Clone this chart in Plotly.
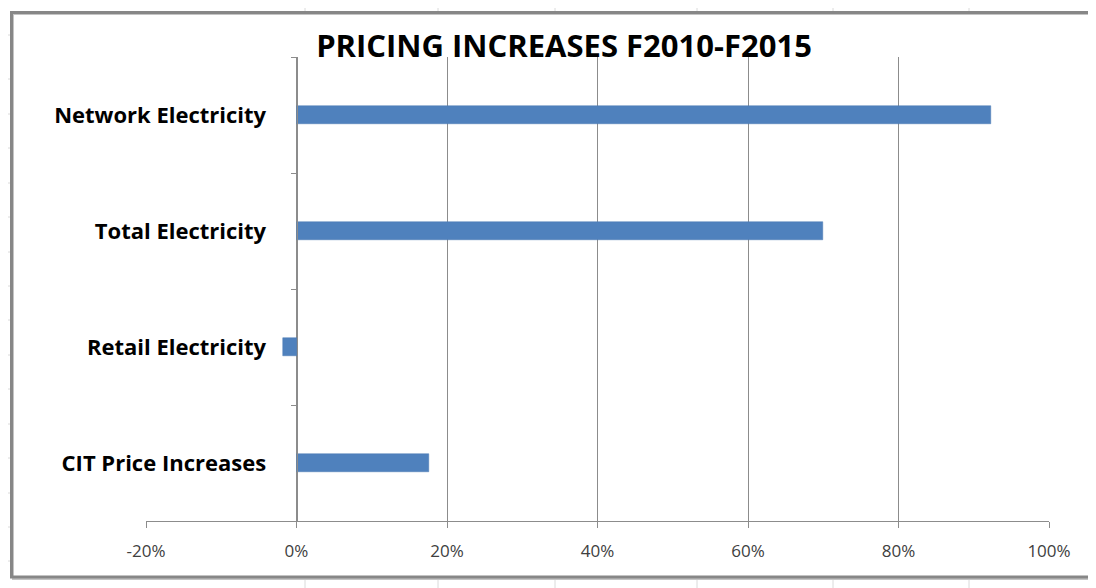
import plotly.graph_objects as go

# ---- data ----
categories = ["CIT Price Increases", "Retail Electricity", "Total Electricity", "Network Electricity"]
values = [0.176, -0.018, 0.70, 0.923]
tick_vals = [-0.2, 0.0, 0.2, 0.4, 0.6, 0.8, 1.0]
tick_text = ["-20%", "0%", "20%", "40%", "60%", "80%", "100%"]
title_text = "PRICING INCREASES F2010-F2015"

# page has an 8px body margin; absolute screen coordinates are converted below
OFF = 8
W, H = 1096 - OFF, 588 - OFF
PL, PR, PT, PB = 146, 1049, 57, 521          # plot area in screen px
ML, MT = PL - OFF, PT - OFF
MR, MB = W - (PR - OFF), H - (PB - OFF)
PW, PH = PR - PL, PB - PT

def px(x):
    return (x - PL) / PW

def py(y):
    return (PB - y) / PH

fig = go.Figure()
fig.add_trace(go.Bar(
    x=values, y=categories, orientation="h",
    width=0.16,
    marker=dict(color="#4f81bd", line=dict(color="#4a7ab5", width=0.5)),
    hoverinfo="x+y",
))

shapes = []
grid_col = "#dadada"
# spreadsheet background lines outside the chart frame
shapes.append(dict(type="line", xref="paper", yref="paper",
                   x0=px(4), x1=px(4), y0=py(0), y1=py(588), line=dict(color=grid_col, width=1), layer="below"))
for yy in [35, 79, 114, 148, 183, 217, 252, 286, 320, 355, 389, 424, 458, 493, 527, 561]:
    shapes.append(dict(type="line", xref="paper", yref="paper",
                       x0=px(4), x1=px(10), y0=py(yy), y1=py(yy), line=dict(color=grid_col, width=1), layer="below"))
for xx in [305, 438, 555, 697, 833, 969]:
    shapes.append(dict(type="line", xref="paper", yref="paper",
                       x0=px(xx), x1=px(xx), y0=py(0), y1=py(11), line=dict(color=grid_col, width=1), layer="below"))
    shapes.append(dict(type="line", xref="paper", yref="paper",
                       x0=px(xx), x1=px(xx), y0=py(579), y1=py(588), line=dict(color=grid_col, width=1), layer="below"))
# chart frame with shadow
shapes.append(dict(type="rect", xref="paper", yref="paper",
                   x0=px(13), x1=px(1094), y0=py(579), y1=py(14),
                   line=dict(color="#c4c4c4", width=2), layer="below"))
shapes.append(dict(type="rect", xref="paper", yref="paper",
                   x0=px(11.5), x1=px(1092.5), y0=py(577), y1=py(12.5),
                   line=dict(color="#878787", width=3), layer="below"))

fig.update_layout(
    width=W, height=H,
    margin=dict(l=ML, r=MR, t=MT, b=MB, pad=0),
    paper_bgcolor="white", plot_bgcolor="white",
    showlegend=False,
    bargap=0,
    title=dict(text=title_text, x=(564 - OFF) / W, xanchor="center",
               y=1 - (46 - OFF) / H, yanchor="middle", yref="container",
               font=dict(family="Open Sans", size=31, color="black", weight="bold")),
    font=dict(family="Open Sans"),
    shapes=shapes,
    xaxis=dict(
        range=[-0.2, 1.0], tickvals=tick_vals, ticktext=tick_text,
        showgrid=True, gridcolor="#8c8c8c", gridwidth=1,
        zeroline=False, showline=True, linecolor="#8c8c8c", linewidth=1,
        ticks="outside", ticklen=6, tickcolor="#8c8c8c",
        ticklabelstandoff=9,
        tickfont=dict(family="Open Sans", size=17, color="#404040"),
        fixedrange=True,
    ),
    yaxis=dict(
        type="category", categoryorder="array", categoryarray=categories,
        range=[-0.5, 3.5], anchor="free", position=1 / 6,
        showgrid=False, zeroline=False, showline=True, linecolor="#8c8c8c", linewidth=1,
        ticks="outside", ticklen=6, tickcolor="#8c8c8c", tickson="boundaries",
        ticklabelstandoff=26,
        tickfont=dict(family="Open Sans", size=22, color="black", weight="bold"),
        fixedrange=True,
    ),
)

fig.write_html("out.html")
